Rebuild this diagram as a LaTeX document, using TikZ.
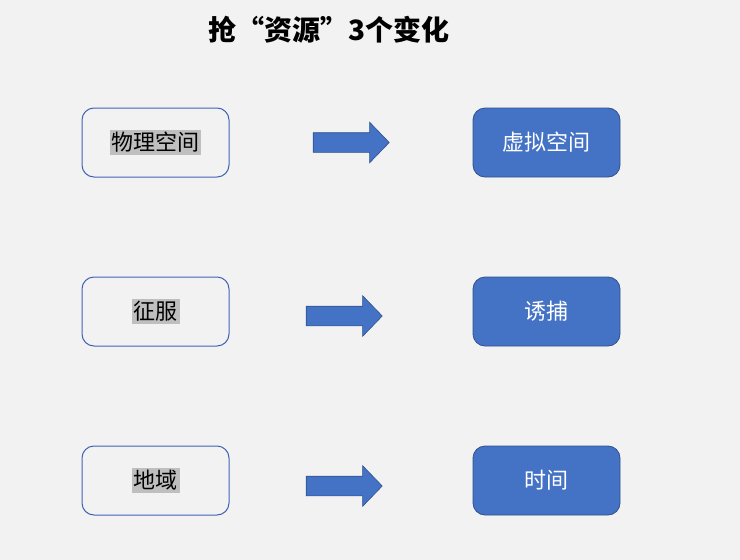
\documentclass[tikz,border=0pt]{standalone}
\usepackage{fontspec}
\newfontfamily\cjk{Noto Sans CJK SC}
\usetikzlibrary{shapes.arrows}

\definecolor{pagebg}{HTML}{F2F2F2}
\definecolor{mainblue}{HTML}{4472C4}
\definecolor{darkblue}{HTML}{2F528F}
\definecolor{boxline}{HTML}{4064B4}
\definecolor{hilite}{HTML}{BFBFBF}

\tikzset{
  oldbox/.style={draw=boxline, line width=1pt, rounded corners=12pt, fill=pagebg,
    minimum width=147pt, minimum height=69pt, font=\cjk\fontsize{22}{26}\selectfont},
  newbox/.style={draw=darkblue, line width=0.8pt, rounded corners=12pt, fill=mainblue,
    text=white, minimum width=147pt, minimum height=69pt, font=\cjk\fontsize{22}{26}\selectfont},
  turnarrow/.style={single arrow, draw=darkblue, line width=0.6pt, fill=mainblue,
    inner xsep=0pt, inner ysep=9.5pt, single arrow head extend=10.5pt,
    single arrow tip angle=92, minimum height=76pt}
}
\newcommand{\hl}[1]{{\setlength{\fboxsep}{2pt}\colorbox{hilite}{#1}}}

\begin{document}
\begin{tikzpicture}[x=1pt, y=-1pt]
\fill[pagebg] (0,0) rectangle (740,560);
\useasboundingbox (0,0) rectangle (740,560);

% title
\node[font=\cjk\bfseries\fontsize{28}{32}\selectfont] (title) at (329,30) {抢“资源”3个变化};

% before
\node[oldbox] (space) at (155.5,142.5) {\hl{物理空间}};
\node[oldbox] (conquer) at (155.5,311.5) {\hl{征服}};
\node[oldbox] (region) at (155.5,480.5) {\hl{地域}};

% after
\node[newbox] (virtual) at (546.5,142.5) {虚拟空间};
\node[newbox] (lure) at (546.5,311.5) {诱捕};
\node[newbox] (timebox) at (546.5,480.5) {时间};

% arrows
\node[turnarrow] (arrowa) at (346.5,142.5) {};
\node[turnarrow] (arrowb) at (339.5,316) {};
\node[turnarrow] (arrowc) at (339.5,486) {};
\end{tikzpicture}
\end{document}
